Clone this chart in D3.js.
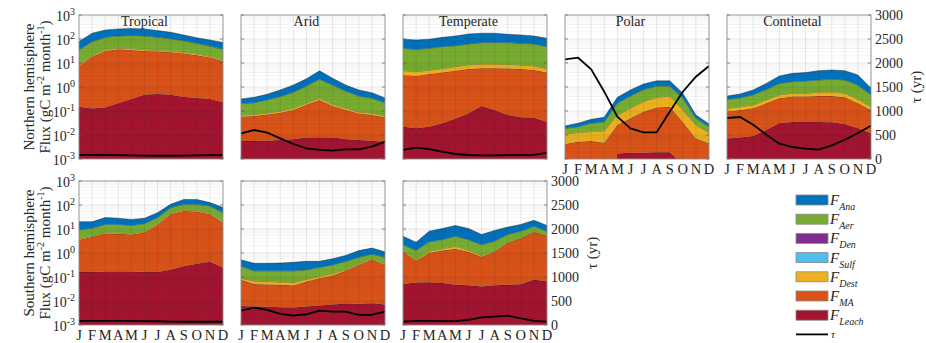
<!DOCTYPE html>
<html>
<head>
<meta charset="utf-8">
<script src="https://cdn.jsdelivr.net/npm/d3@7"></script>
<style>
  body { margin: 0; background: #fff; }
  text { font-family: "Liberation Serif", "Times New Roman", serif; fill: #262626; }
</style>
</head>
<body>
<div id="container"></div>
<script>
const months = ['J', 'F', 'M', 'A', 'M', 'J', 'J', 'A', 'S', 'O', 'N', 'D'];
const legendNames = ['Ana', 'Aer', 'Den', 'Sulf', 'Dest', 'MA', 'Leach'];
const legendColors = ['#0072BD', '#77AC30', '#7E2F8E', '#4DBEEE', '#EDB120', '#D95319', '#A2142F'];
const tauTicks = [0, 500, 1000, 1500, 2000, 2500, 3000];
const logTicks = [-3, -2, -1, 0, 1, 2, 3];

// stacked flux, top of each layer (gC m-2 month-1)
// order bottom -> top: Leach, MA, Dest, Aer, Ana (Den and Sulf are too small to show)
const tropNLeach = [0.15, 0.126, 0.14, 0.21, 0.32, 0.47, 0.51, 0.47, 0.38, 0.35, 0.32, 0.23];
const tropNMA = [7.5, 18, 32, 37, 35, 32, 30, 28, 25, 21, 17, 12];
const tropNDest = [8.4, 20, 36, 42, 40, 36, 33, 32, 28, 24, 19, 13.5];
const tropNAer = [35, 78, 117, 132, 138, 132, 117, 102, 85, 66, 51, 37];
const tropNAna = [78, 174, 237, 263, 275, 263, 224, 190, 148, 112, 91, 71];
const tropNTau = [85, 85, 83, 80, 75, 70, 68, 68, 70, 75, 80, 82];

const aridNLeach = [0.0056, 0.0056, 0.0058, 0.0062, 0.0066, 0.0078, 0.0079, 0.0078, 0.0066, 0.0062, 0.0058, 0.0052];
const aridNMA = [0.058, 0.062, 0.072, 0.085, 0.11, 0.18, 0.29, 0.16, 0.11, 0.079, 0.068, 0.055];
const aridNDest = [0.068, 0.072, 0.084, 0.1, 0.13, 0.21, 0.34, 0.19, 0.13, 0.092, 0.08, 0.064];
const aridNAer = [0.21, 0.22, 0.29, 0.40, 0.60, 1.1, 2.1, 1.2, 0.68, 0.42, 0.34, 0.22];
const aridNAna = [0.32, 0.37, 0.50, 0.75, 1.2, 2.2, 4.7, 2.3, 1.2, 0.75, 0.58, 0.35];
const aridNTau = [535, 604, 548, 431, 312, 222, 188, 174, 201, 201, 257, 361];

const tempNLeach = [0.022, 0.019, 0.022, 0.031, 0.047, 0.079, 0.16, 0.11, 0.068, 0.055, 0.052, 0.035];
const tempNMA = [3.2, 2.9, 3.5, 4.0, 4.8, 5.6, 6.0, 6.0, 5.9, 5.6, 5.1, 4.0];
const tempNDest = [4.8, 4.4, 5.0, 5.9, 7.1, 8.5, 9.1, 9.1, 8.7, 8.3, 7.6, 5.9];
const tempNAer = [41, 37, 41, 48, 52, 62, 71, 71, 71, 66, 62, 48];
const tempNAna = [98, 91, 98, 117, 133, 162, 174, 174, 158, 148, 133, 107];
const tempNTau = [188, 236, 208, 153, 104, 83, 76, 76, 80, 80, 85, 132];

const polarLeach = [1e-6, 1e-6, 1e-6, 1e-6, 0.0017, 0.0018, 0.0018, 0.0019, 0.0019, 0.0006, 1e-6, 1e-6];
const polarMA = [0.0042, 0.0052, 0.0056, 0.0048, 0.026, 0.05, 0.093, 0.14, 0.15, 0.035, 0.0072, 0.0045];
const polarDest = [0.011, 0.0126, 0.0138, 0.015, 0.068, 0.13, 0.245, 0.37, 0.42, 0.11, 0.026, 0.0126];
const polarAer = [0.019, 0.022, 0.031, 0.035, 0.21, 0.42, 0.79, 1.1, 1.1, 0.34, 0.05, 0.022];
const polarAna = [0.024, 0.031, 0.045, 0.055, 0.37, 0.75, 1.33, 1.8, 1.8, 0.55, 0.068, 0.029];
const polarTau = [2077, 2110, 1869, 1402, 882, 639, 556, 556, 986, 1402, 1715, 1938];

const contLeach = [0.0072, 0.0079, 0.0091, 0.016, 0.032, 0.035, 0.035, 0.035, 0.034, 0.029, 0.019, 0.0117];
const contMA = [0.093, 0.11, 0.13, 0.21, 0.34, 0.40, 0.40, 0.42, 0.42, 0.37, 0.21, 0.11];
const contDest = [0.13, 0.15, 0.18, 0.29, 0.47, 0.55, 0.55, 0.62, 0.62, 0.55, 0.31, 0.15];
const contAer = [0.31, 0.35, 0.47, 0.79, 1.4, 1.66, 1.78, 1.95, 2.1, 1.95, 1.2, 0.47];
const contAna = [0.42, 0.51, 0.75, 1.4, 2.9, 3.7, 4.0, 4.8, 5.1, 4.8, 3.2, 0.89];
const contTau = [854, 875, 715, 506, 319, 250, 215, 194, 283, 402, 542, 694];

const tropSLeach = [0.16, 0.16, 0.17, 0.17, 0.17, 0.16, 0.16, 0.2, 0.28, 0.36, 0.43, 0.25];
const tropSMA = [3.6, 4.6, 6.5, 6.3, 5.9, 6.9, 15.5, 41, 56, 54, 41, 18];
const tropSDest = [4.0, 5.0, 7.1, 6.9, 6.5, 7.6, 17, 45, 62, 59, 45, 20];
const tropSAer = [9.5, 10.7, 15.5, 15.5, 14, 16.6, 30, 78, 107, 107, 91, 48];
const tropSAna = [20, 20, 30, 28, 25, 28, 48, 107, 170, 170, 126, 78];
const tropSTau = [85, 88, 88, 88, 85, 82, 78, 70, 68, 68, 68, 68];

const aridSLeach = [0.0062, 0.0059, 0.0058, 0.0055, 0.0054, 0.0059, 0.0065, 0.0072, 0.0079, 0.0076, 0.0081, 0.0072];
const aridSMA = [0.076, 0.051, 0.049, 0.047, 0.044, 0.065, 0.089, 0.115, 0.18, 0.32, 0.52, 0.32];
const aridSDest = [0.089, 0.069, 0.066, 0.062, 0.059, 0.081, 0.105, 0.138, 0.2, 0.35, 0.56, 0.35];
const aridSAer = [0.28, 0.18, 0.18, 0.18, 0.18, 0.2, 0.25, 0.32, 0.45, 0.66, 0.91, 0.66];
const aridSAna = [0.52, 0.37, 0.37, 0.38, 0.41, 0.45, 0.45, 0.58, 0.79, 1.26, 1.6, 1.12];
const aridSTau = [300, 363, 314, 231, 195, 224, 300, 279, 280, 210, 210, 279];

const tempSLeach = [0.051, 0.059, 0.06, 0.056, 0.047, 0.045, 0.04, 0.045, 0.047, 0.05, 0.076, 0.066];
const tempSMA = [1.12, 0.48, 1.0, 1.26, 1.5, 1.12, 0.69, 1.12, 2.6, 4.0, 7.4, 5.0];
const tempSDest = [1.26, 0.52, 1.17, 1.5, 1.9, 1.3, 0.79, 1.2, 2.75, 4.2, 7.6, 5.2];
const tempSAer = [2.2, 1.26, 2.95, 3.6, 5.0, 3.6, 2.2, 3.1, 5.9, 8.1, 13, 8.1];
const tempSAna = [5.0, 2.8, 8.1, 10.5, 14, 10.5, 5.9, 8.7, 12, 15.5, 23, 14];
const tempSTau = [70, 84, 84, 80, 80, 105, 161, 175, 195, 140, 84, 70];

const layerColors = ['#A2142F', '#D95319', '#EDB120', '#77AC30', '#0072BD'];

const panels = [
  { title: 'Tropical', row: 0, col: 0, stack: [tropNLeach, tropNMA, tropNDest, tropNAer, tropNAna], tau: tropNTau, left: true },
  { title: 'Arid', row: 0, col: 1, stack: [aridNLeach, aridNMA, aridNDest, aridNAer, aridNAna], tau: aridNTau },
  { title: 'Temperate', row: 0, col: 2, stack: [tempNLeach, tempNMA, tempNDest, tempNAer, tempNAna], tau: tempNTau },
  { title: 'Polar', row: 0, col: 3, stack: [polarLeach, polarMA, polarDest, polarAer, polarAna], tau: polarTau, months: true },
  { title: 'Continetal', row: 0, col: 4, stack: [contLeach, contMA, contDest, contAer, contAna], tau: contTau, months: true, right: true },
  { title: '', row: 1, col: 0, stack: [tropSLeach, tropSMA, tropSDest, tropSAer, tropSAna], tau: tropSTau, left: true, months: true },
  { title: '', row: 1, col: 1, stack: [aridSLeach, aridSMA, aridSDest, aridSAer, aridSAna], tau: aridSTau, months: true },
  { title: '', row: 1, col: 2, stack: [tempSLeach, tempSMA, tempSDest, tempSAer, tempSAna], tau: tempSTau, months: true, right: true },
];

const width = 926;
const height = 343;
const pw = 144;
const ph = 144;

const svg = d3.select('#container').append('svg')
  .attr('width', width).attr('height', height);

panels.forEach((p, i) => {
  const x0 = 79 + p.col * 162;
  const y0 = p.row === 0 ? 15 : 181;
  const x = d3.scaleLinear().domain([0, 11]).range([x0, x0 + pw]);
  const y = d3.scaleLog().domain([1e-3, 1e3]).range([y0 + ph, y0]);
  const yt = d3.scaleLinear().domain([0, 3000]).range([y0 + ph, y0]);

  svg.append('clipPath').attr('id', 'clip' + i)
    .append('rect').attr('x', x0).attr('y', y0).attr('width', pw).attr('height', ph);

  const g = svg.append('g');
  const plot = g.append('g').attr('clip-path', `url(#clip${i})`);

  // stacked areas
  p.stack.forEach((top, k) => {
    const base = k === 0 ? null : p.stack[k - 1];
    const area = d3.area()
      .x((d, j) => x(j))
      .y0((d, j) => (base ? y(base[j]) : y0 + ph + 2))
      .y1(d => y(d));
    plot.append('path').datum(top).attr('d', area).attr('fill', layerColors[k]);
    plot.append('path').datum(top)
      .attr('d', d3.line().x((d, j) => x(j)).y(d => y(d)))
      .attr('fill', 'none').attr('stroke', '#1a1a1a')
      .attr('stroke-width', 0.6).attr('stroke-opacity', 0.7);
  });

  // grid
  const grid = g.append('g');
  for (let j = 1; j < 11; j++) {
    grid.append('line').attr('x1', x(j)).attr('x2', x(j)).attr('y1', y0).attr('y2', y0 + ph)
      .attr('stroke', '#262626').attr('stroke-opacity', 0.15).attr('stroke-width', 0.7);
  }
  for (let e = -3; e < 3; e++) {
    if (e > -3) {
      grid.append('line').attr('x1', x0).attr('x2', x0 + pw).attr('y1', y(10 ** e)).attr('y2', y(10 ** e))
        .attr('stroke', '#262626').attr('stroke-opacity', 0.15).attr('stroke-width', 0.7);
    }
    for (let m = 2; m < 10; m++) {
      const v = m * 10 ** e;
      grid.append('line').attr('x1', x0).attr('x2', x0 + pw).attr('y1', y(v)).attr('y2', y(v))
        .attr('stroke', '#262626').attr('stroke-opacity', 0.07).attr('stroke-width', 0.7);
    }
  }

  // tau line
  plot.append('path').datum(p.tau)
    .attr('d', d3.line().x((d, j) => x(j)).y(d => yt(d)))
    .attr('fill', 'none').attr('stroke', '#000').attr('stroke-width', 1.8);

  // ticks
  logTicks.forEach(e => {
    g.append('line').attr('x1', x0).attr('x2', x0 + 3).attr('y1', y(10 ** e)).attr('y2', y(10 ** e))
      .attr('stroke', '#555').attr('stroke-width', 0.7);
  });
  tauTicks.forEach(t => {
    g.append('line').attr('x1', x0 + pw - 3).attr('x2', x0 + pw).attr('y1', yt(t)).attr('y2', yt(t))
      .attr('stroke', '#555').attr('stroke-width', 0.7);
  });
  months.forEach((mo, j) => {
    g.append('line').attr('x1', x(j)).attr('x2', x(j)).attr('y1', y0 + ph).attr('y2', y0 + ph - 2)
      .attr('stroke', '#555').attr('stroke-width', 0.7);
  });

  // frame
  g.append('rect').attr('x', x0).attr('y', y0).attr('width', pw).attr('height', ph)
    .attr('fill', 'none').attr('stroke', '#8a8a8a').attr('stroke-width', 0.9);

  if (p.title) {
    g.append('text').attr('x', x(5)).attr('y', y0 + 11)
      .attr('text-anchor', 'middle').style('font-size', '14px').text(p.title);
  }

  if (p.months) {
    months.forEach((mo, j) => {
      g.append('text').attr('x', x(j)).attr('y', y0 + ph + 15)
        .attr('text-anchor', 'middle').style('font-size', '14.5px').text(mo);
    });
  }

  if (p.left) {
    logTicks.forEach(e => {
      const t = g.append('text').attr('x', x0 - 4).attr('y', y(10 ** e) + 6)
        .attr('text-anchor', 'end').style('font-size', '14px');
      t.append('tspan').text('10');
      t.append('tspan').attr('dy', -6).style('font-size', '10px').text(e);
    });
    const cy = y0 + ph / 2;
    g.append('text').attr('transform', `translate(34,${cy}) rotate(-90)`)
      .attr('text-anchor', 'middle').style('font-size', '15px')
      .text(p.row === 0 ? 'Northern hemisphere' : 'Southern hemisphere');
    const f = g.append('text').attr('transform', `translate(50,${cy}) rotate(-90)`)
      .attr('text-anchor', 'middle').style('font-size', '15px');
    f.append('tspan').text('Flux (gC m');
    f.append('tspan').attr('dy', -6).style('font-size', '10px').text('-2');
    f.append('tspan').attr('dy', 6).text(' month');
    f.append('tspan').attr('dy', -6).style('font-size', '10px').text('-1');
    f.append('tspan').attr('dy', 6).text(')');
  }

  if (p.right) {
    tauTicks.forEach(t => {
      g.append('text').attr('x', x0 + pw + 4).attr('y', yt(t) + 5)
        .style('font-size', '14px').text(t);
    });
    g.append('text').attr('transform', `translate(${x0 + pw + 50},${y0 + ph / 2}) rotate(-90)`)
      .attr('text-anchor', 'middle').style('font-size', '15px').text('\u03C4 (yr)');
  }
});

// legend
const lg = svg.append('g');
legendNames.forEach((name, k) => {
  const cy = 200 + k * 19.2;
  lg.append('rect').attr('x', 796).attr('y', cy - 5).attr('width', 32).attr('height', 10)
    .attr('fill', legendColors[k]).attr('stroke', '#8a8a8a').attr('stroke-width', 0.8);
  const t = lg.append('text').attr('x', 830).attr('y', cy + 5)
    .style('font-size', '15px').style('font-style', 'italic');
  t.append('tspan').text('F');
  t.append('tspan').attr('dy', 5).style('font-size', '10px').text(name);
});
const tauY = 200 + 7 * 19.2;
lg.append('line').attr('x1', 796).attr('x2', 828).attr('y1', tauY).attr('y2', tauY)
  .attr('stroke', '#000').attr('stroke-width', 1.8);
lg.append('text').attr('x', 831).attr('y', tauY + 4)
  .style('font-size', '11px').style('font-style', 'italic').text('\u03C4');
</script>
</body>
</html>
